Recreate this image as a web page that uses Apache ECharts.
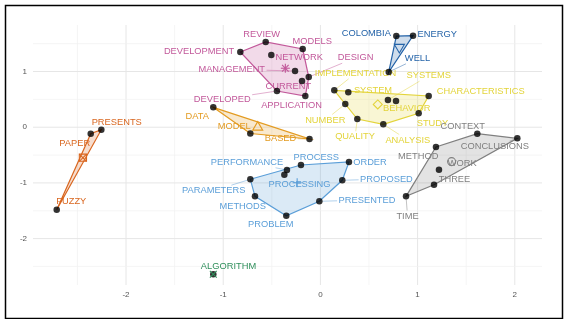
<!DOCTYPE html>
<html><head><meta charset="utf-8">
<script src="https://cdn.jsdelivr.net/npm/echarts@6/dist/echarts.min.js"></script>
<style>html,body{margin:0;padding:0;background:#fff}#c{width:567px;height:319px}</style>
</head><body><div id="c"></div>
<script>
// ---------------- data ----------------
const words = ['PRESENTS','PAPER','FUZZY','DATA','MODEL','BASED','DEVELOPMENT','REVIEW','MODELS','NETWORK','MANAGEMENT','DESIGN','CURRENT','DEVELOPED','APPLICATION','IMPLEMENTATION','SYSTEM','NUMBER','QUALITY','ANALYSIS','SYSTEMS','BEHAVIOR','STUDY','CHARACTERISTICS','COLOMBIA','ENERGY','WELL','PERFORMANCE','PROCESSING','PROCESS','ORDER','PROPOSED','PRESENTED','PROBLEM','METHODS','PARAMETERS','CONTEXT','CONCLUSIONS','METHOD','WORK','THREE','TIME','ALGORITHM'];
const dim1 = [-2.254,-2.363,-2.713,-1.102,-0.721,-0.112,-0.824,-0.563,-0.182,-0.505,-0.261,-0.120,-0.189,-0.447,-0.155,0.143,0.287,0.256,0.380,0.647,0.695,0.778,1.011,1.114,0.781,0.953,0.703,-0.344,-0.371,-0.200,0.294,0.225,-0.011,-0.351,-0.673,-0.721,1.614,2.026,1.189,1.220,1.169,0.881,-1.102];
const dim2 = [-0.045,-0.117,-1.481,0.357,-0.113,-0.212,1.350,1.530,1.404,1.296,1.009,0.901,0.829,0.650,0.560,0.662,0.627,0.417,0.147,0.052,0.488,0.470,0.250,0.560,1.637,1.643,0.991,-0.768,-0.853,-0.679,-0.625,-0.953,-1.330,-1.589,-1.241,-0.935,-0.117,-0.199,-0.355,-0.763,-1.032,-1.241,-2.641];
const cluster = [0,0,0,1,1,1,2,2,2,2,2,2,2,2,2,3,3,3,3,3,3,3,3,3,4,4,4,5,5,5,5,5,5,5,5,5,6,6,6,6,6,6,7];
const xTicks = [-2,-1,0,1,2];
const yTicks = [-2,-1,0,1];
const xGrid = [-2.5,-2,-1.5,-1,-0.5,0,0.5,1,1.5,2];
const yGrid = [-2.5,-2,-1.5,-1,-0.5,0,0.5,1,1.5];

// ---------------- style ----------------
const colors = ['#D9661F','#E39B21','#C2589A','#E3D43A','#2463A8','#5A9ED8','#7F7F7F','#2F8F5B'];
const shapes = ['boxcross','triangle','asterisk','diamond','triangleDown','plus','circle','cross'];
const labelDx = [15.4,-16,14.6, -16.1,-16.1,-29, -41.3,-4,9.5,27.9,-63.3,46.8,-13.7,-54.7,-13.8, 21.2,24.7,-20,-2.3,24.5,40.8,10.7,13.8,52.1, -30,24.2,28.8, -40,15.2,15.3,21,44.2,47.7,-15.5,-12.3,-36.6, -14.5,-22.5,-17.7,23.3,20.5,1.5, 15.2];
const labelDy = [-7,9.6,-8, 9.4,-6.8,-0.7, -1,-7.7,-8,2.7,-1.7,-19.3,5,8.3,9, -17,-1.6,16,17.7,15.7,-24.3,7.3,10,-5, -2.7,-1,-13.7, -7.7,9.6,-7.3,0.7,-1.3,-1.3,8.6,10.4,11.4, -7,8.4,9,-6.4,-5.4,19.7, -7.6];
const FF = "'Liberation Sans', Arial, sans-serif";
const FS = 9.3;

const mctx = document.createElement('canvas').getContext('2d');
mctx.font = FS + 'px ' + FF;
function tw(t){ return mctx.measureText(t).width; }
function hexA(h,a){ const n=parseInt(h.slice(1),16); return 'rgba('+((n>>16)&255)+','+((n>>8)&255)+','+(n&255)+','+a+')'; }
function hull(pts){
  pts = pts.slice().sort((a,b)=>a[0]-b[0]||a[1]-b[1]);
  if (pts.length<3) return pts;
  const cr=(o,a,b)=>(a[0]-o[0])*(b[1]-o[1])-(a[1]-o[1])*(b[0]-o[0]);
  const lo=[],up=[];
  for(const p of pts){ while(lo.length>=2&&cr(lo[lo.length-2],lo[lo.length-1],p)<=0) lo.pop(); lo.push(p); }
  for(let i=pts.length-1;i>=0;i--){ const p=pts[i]; while(up.length>=2&&cr(up[up.length-2],up[up.length-1],p)<=0) up.pop(); up.push(p); }
  lo.pop(); up.pop(); return lo.concat(up);
}
function shapeEls(type, cx, cy, col){
  const st = {stroke:col, fill:'none', lineWidth:1.1};
  const s = 4.5;
  const L = (x1,y1,x2,y2)=>({type:'line',shape:{x1:x1,y1:y1,x2:x2,y2:y2},style:st});
  switch(type){
    case 'boxcross': { const r=3.6; return [{type:'rect',shape:{x:cx-r,y:cy-r,width:2*r,height:2*r},style:st}, L(cx-r,cy-r,cx+r,cy+r), L(cx-r,cy+r,cx+r,cy-r)]; }
    case 'triangle': return [{type:'polygon',shape:{points:[[cx,cy-s-0.5],[cx+s+0.5,cy+s-1],[cx-s-0.5,cy+s-1]]},style:st}];
    case 'triangleDown': return [{type:'polygon',shape:{points:[[cx,cy+s+0.5],[cx+s+0.5,cy-s+1],[cx-s-0.5,cy-s+1]]},style:st}];
    case 'diamond': return [{type:'polygon',shape:{points:[[cx,cy-s],[cx+s,cy],[cx,cy+s],[cx-s,cy]]},style:st}];
    case 'plus': return [L(cx-s,cy,cx+s,cy), L(cx,cy-s,cx,cy+s)];
    case 'cross': { const r=3.4; return [L(cx-r,cy-r,cx+r,cy+r), L(cx-r,cy+r,cx+r,cy-r)]; }
    case 'asterisk': { const r=3.3; return [L(cx-s,cy,cx+s,cy), L(cx,cy-s,cx,cy+s), L(cx-r,cy-r,cx+r,cy+r), L(cx-r,cy+r,cx+r,cy-r)]; }
    case 'circle': return [{type:'circle',shape:{cx:cx,cy:cy,r:4},style:st}];
  }
  return [];
}

const chart = echarts.init(document.getElementById('c'));
const clusterIds = colors.map((c,i)=>i);
const gridData = xGrid.map(v=>['x',v]).concat(yGrid.map(v=>['y',v]));

chart.setOption({
  animation:false,
  backgroundColor:'#fff',
  grid:{left:33,right:25,top:25,bottom:34},
  xAxis:{type:'value',min:-2.957,max:2.280,show:false},
  yAxis:{type:'value',min:-2.833,max:1.835,show:false},
  graphic:[{type:'rect',left:3,top:3,shape:{width:557,height:313},style:{fill:'none',stroke:'#000',lineWidth:1.5},z:100}],
  series:[
    { // grid lines + tick labels
      type:'custom', z:0, silent:true, clip:false,
      data: gridData.map((d,i)=>[i]),
      renderItem:function(params, api){
        const cs = params.coordSys;
        const d = gridData[api.value(0)];
        const major = Number.isInteger(d[1]);
        const st = {stroke: major?'#E6E6E6':'#F0F0F0', lineWidth: major?1:0.7};
        const ch = [];
        if (d[0]==='x'){
          const x = api.coord([d[1],0])[0];
          ch.push({type:'line',shape:{x1:x,y1:cs.y,x2:x,y2:cs.y+cs.height},style:st});
          if (xTicks.indexOf(d[1])>=0) ch.push({type:'text',style:{text:String(d[1]),x:x,y:cs.y+cs.height+10,align:'center',verticalAlign:'middle',fill:'#555',fontSize:8,fontFamily:FF}});
        } else {
          const y = api.coord([0,d[1]])[1];
          ch.push({type:'line',shape:{x1:cs.x,y1:y,x2:cs.x+cs.width,y2:y},style:st});
          if (yTicks.indexOf(d[1])>=0) ch.push({type:'text',style:{text:String(d[1]),x:cs.x-6,y:y,align:'right',verticalAlign:'middle',fill:'#555',fontSize:8,fontFamily:FF}});
        }
        return {type:'group',children:ch};
      }
    },
    { // labels with repel segments
      type:'custom', z:2, silent:true, clip:false,
      data: words.map((w,i)=>[dim1[i],dim2[i],i]),
      renderItem:function(params, api){
        const i = api.value(2);
        const p = api.coord([api.value(0), api.value(1)]);
        const col = colors[cluster[i]];
        const lx = p[0]+labelDx[i], ly = p[1]+labelDy[i];
        const hw = tw(words[i])/2 + 1.5, hh = 5.5;
        const ch = [];
        const dx = p[0]-lx, dy = p[1]-ly;
        const t = Math.min(dx!==0?hw/Math.abs(dx):Infinity, dy!==0?hh/Math.abs(dy):Infinity);
        if (t < 1){
          const ex = lx+dx*t, ey = ly+dy*t;
          const len = Math.hypot(p[0]-ex, p[1]-ey);
          if (len > 8){
            const ux=(ex-p[0])/len, uy=(ey-p[1])/len;
            ch.push({type:'line',shape:{x1:p[0]+ux*3,y1:p[1]+uy*3,x2:ex,y2:ey},style:{stroke:col,lineWidth:0.6,opacity:0.8}});
          }
        }
        ch.push({type:'text',style:{text:words[i],x:lx,y:ly,align:'center',verticalAlign:'middle',fill:col,fontSize:FS,fontFamily:FF}});
        return {type:'group',children:ch};
      }
    },
    { // convex hulls
      type:'custom', z:3, silent:true, clip:false,
      data: clusterIds.map(c=>[c]),
      renderItem:function(params, api){
        const c = api.value(0);
        const pts=[];
        for (let i=0;i<words.length;i++) if (cluster[i]===c) pts.push(api.coord([dim1[i],dim2[i]]));
        if (pts.length<3) return {type:'group',children:[]};
        return {type:'polygon',shape:{points:hull(pts)},style:{fill:hexA(colors[c],0.22),stroke:colors[c],lineWidth:1.2}};
      }
    },
    { // points
      type:'scatter', z:4, silent:true,
      symbol:'circle', symbolSize:6.5,
      itemStyle:{color:'#000'},
      data: words.map((w,i)=>[dim1[i],dim2[i]])
    },
    { // cluster centers
      type:'custom', z:5, silent:true, clip:false,
      data: clusterIds.map(c=>[c]),
      renderItem:function(params, api){
        const c = api.value(0);
        let sx=0, sy=0, n=0;
        for (let i=0;i<words.length;i++) if (cluster[i]===c){ sx+=dim1[i]; sy+=dim2[i]; n++; }
        const p = api.coord([sx/n, sy/n]);
        return {type:'group',children:shapeEls(shapes[c], p[0], p[1], colors[c])};
      }
    }
  ]
});
</script>
</body></html>
